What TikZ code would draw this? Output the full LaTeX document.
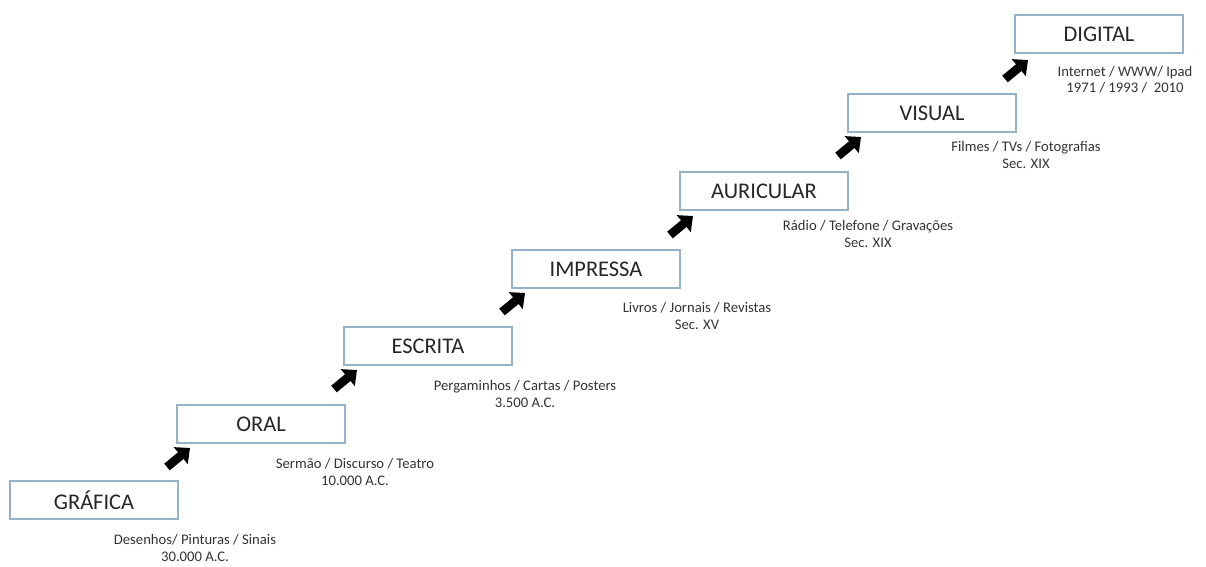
\documentclass[tikz,border=0pt]{standalone}
\usepackage{fontspec}
\setmainfont{Carlito}
\usetikzlibrary{arrows.meta}
\definecolor{boxline}{RGB}{150,178,200}
\tikzset{
  stage/.style={draw=boxline, line width=0.9pt, fill=white, minimum width=126pt, minimum height=28.5pt, inner sep=0pt, font=\fontsize{16.8}{20}\selectfont, text=black!85},
  info/.style={align=center, font=\fontsize{11}{12.3}\selectfont, text=black!80, inner sep=0pt},
  stepar/.style={line width=6.5pt, -{Triangle[length=9pt,width=16pt]}, black}
}
\begin{document}
\begin{tikzpicture}[x=0.75pt,y=-0.75pt]
\useasboundingbox (0,0) rectangle (1206,567);
\node[stage] (g) at (94,500) {GRÁFICA};
\node[stage] (o) at (261,424) {ORAL};
\node[stage] (e) at (428,346) {ESCRITA};
\node[stage] (i) at (596,269) {IMPRESSA};
\node[stage] (a) at (764,191) {AURICULAR};
\node[stage] (v) at (932,113) {VISUAL};
\node[stage] (d) at (1099,34) {DIGITAL};

\node[info] (gl) at (195,548) {Desenhos/ Pinturas / Sinais\\30.000 A.C.};
\node[info] (ol) at (355,472) {Sermão / Discurso / Teatro\\10.000 A.C.};
\node[info] (el) at (525,394) {Pergaminhos / Cartas / Posters\\3.500 A.C.};
\node[info] (il) at (697,316) {Livros / Jornais / Revistas\\Sec. XV};
\node[info] (al) at (868,234) {Rádio / Telefone / Gravações\\Sec. XIX};
\node[info] (vl) at (1026,155) {Filmes / TVs / Fotografias\\Sec. XIX};
\node[info] (dl) at (1125,80) {Internet / WWW/ Ipad\\1971 / 1993 /~~2010};

\foreach \n/\x/\y in {1/167/467, 2/334/389, 3/502/312, 4/670/235, 5/838/156, 6/1005/79}{
  \coordinate (t\n) at (\x,\y);
  \coordinate (h\n) at (\x+23,\y-19);
  \draw[stepar] (t\n) -- (h\n);
}
\end{tikzpicture}
\end{document}
